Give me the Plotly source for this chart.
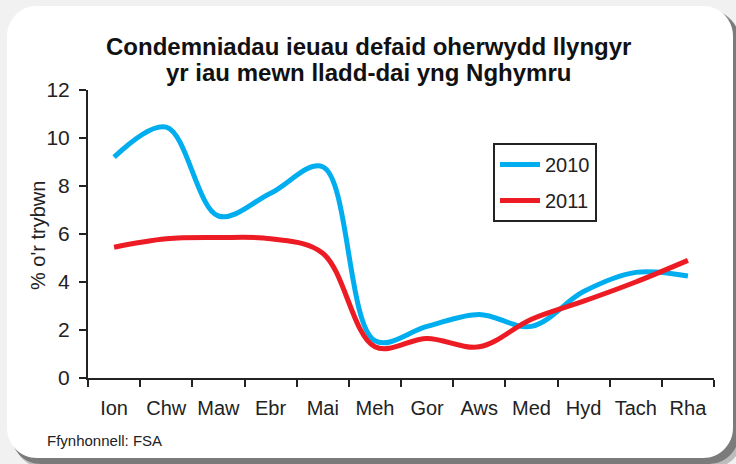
import plotly.graph_objects as go

months = ["Ion", "Chw", "Maw", "Ebr", "Mai", "Meh", "Gor", "Aws", "Med", "Hyd", "Tach", "Rha"]
y2010 = [9.2, 10.45, 6.75, 7.7, 8.8, 1.55, 2.15, 2.65, 2.15, 3.6, 4.4, 4.25]
y2011 = [5.45, 5.8, 5.85, 5.8, 5.2, 1.3, 1.65, 1.3, 2.45, 3.2, 4.0, 4.9]
y_ticks = [0, 2, 4, 6, 8, 10, 12]
title_lines = ["Condemniadau ieuau defaid oherwydd llyngyr", "yr iau mewn lladd-dai yng Nghymru"]
y_title = "% o'r trybwn"
source = "Ffynhonnell: FSA"

W, H = 736, 464
L, R, T, B = 88, 22, 90, 86
PW, PH = W - L - R, H - T - B


def px2paper(px, py):
    return (px - L) / PW, (H - B - py) / PH


def rounded_rect(x0, y0, x1, y1, r):
    k = 0.5523 * r

    def P(x, y):
        a, b = px2paper(x, y)
        return f"{a:.5f},{b:.5f}"
    d = f"M {P(x0 + r, y0)} L {P(x1 - r, y0)} "
    d += f"C {P(x1 - r + k, y0)} {P(x1, y0 + r - k)} {P(x1, y0 + r)} "
    d += f"L {P(x1, y1 - r)} "
    d += f"C {P(x1, y1 - r + k)} {P(x1 - r + k, y1)} {P(x1 - r, y1)} "
    d += f"L {P(x0 + r, y1)} "
    d += f"C {P(x0 + r - k, y1)} {P(x0, y1 - r + k)} {P(x0, y1 - r)} "
    d += f"L {P(x0, y0 + r)} "
    d += f"C {P(x0, y0 + r - k)} {P(x0 + r - k, y0)} {P(x0 + r, y0)} Z"
    return d


fig = go.Figure()
fig.add_trace(go.Scatter(x=months, y=y2010, name="2010", mode="lines",
                         line=dict(color="#00AEEF", width=5, shape="spline", smoothing=1.0),
                         legendgroup="a"))
fig.add_trace(go.Scatter(x=months, y=y2011, name="2011", mode="lines",
                         line=dict(color="#ED1C24", width=5, shape="spline", smoothing=1.0),
                         legendgroup="b"))

shapes = [
    dict(type="path", xref="paper", yref="paper", layer="below",
         path=rounded_rect(14, 14, 742, 468, 30), fillcolor="rgba(90,90,90,0.35)", line=dict(width=0)),
    dict(type="path", xref="paper", yref="paper", layer="below",
         path=rounded_rect(11, 10, 739, 464, 30), fillcolor="rgba(70,70,70,0.55)", line=dict(width=0)),
    dict(type="path", xref="paper", yref="paper", layer="below",
         path=rounded_rect(7, 6, 733, 458, 30), fillcolor="white", line=dict(width=0)),
]

sx, sy = px2paper(45, 440)
tx, ty1 = px2paper(368, 47)
_, ty2 = px2paper(368, 72.5)
yx, yy = px2paper(38, 236)

annotations = [
    dict(text=f"<b>{title_lines[0]}</b>", xref="paper", yref="paper", x=tx, y=ty1,
         xanchor="center", yanchor="middle", showarrow=False,
         font=dict(size=24, color="#111111")),
    dict(text=f"<b>{title_lines[1]}</b>", xref="paper", yref="paper", x=tx, y=ty2,
         xanchor="center", yanchor="middle", showarrow=False,
         font=dict(size=24, color="#111111")),
    dict(text=y_title, xref="paper", yref="paper", x=yx, y=yy, textangle=-90,
         xanchor="center", yanchor="middle", showarrow=False,
         font=dict(size=20, color="#222222")),
    dict(text=source, xref="paper", yref="paper", x=sx, y=sy,
         xanchor="left", yanchor="middle", showarrow=False,
         font=dict(size=15, color="#222222")),
]

fig.update_layout(
    width=W, height=H,
    margin=dict(l=L, r=R, t=T, b=B),
    paper_bgcolor="#f1f1f1",
    plot_bgcolor="rgba(0,0,0,0)",
    font=dict(family="Liberation Sans, Arial, sans-serif", color="#222222", size=20),
    shapes=shapes,
    showlegend=True,
    legend=dict(x=px2paper(493, 0)[0], y=px2paper(0, 143)[1], xanchor="left", yanchor="top",
                bgcolor="white", bordercolor="#222222", borderwidth=2,
                font=dict(size=20), tracegroupgap=7, itemwidth=40),
    xaxis=dict(type="category", categoryorder="array", categoryarray=months,
               range=[-0.5, 11.5], tickson="boundaries", ticks="outside", ticklen=7, tickwidth=2,
               tickcolor="#222222", showline=True, linecolor="#222222", linewidth=2,
               showgrid=False, zeroline=False, ticklabelstandoff=11, automargin=False,
               tickangle=0, tickfont=dict(size=20)),
    yaxis=dict(range=[0, 12], tickvals=y_ticks, ticks="outside", ticklen=7, tickwidth=2,
               tickcolor="#222222", showline=True, linecolor="#222222", linewidth=2,
               showgrid=False, zeroline=False, ticklabelstandoff=5, automargin=False,
               tickfont=dict(size=21)),
    annotations=annotations,
)

fig.write_html("out.html", config={"displayModeBar": False},
               post_script="document.body.style.margin='0';document.body.style.overflow='hidden';")
